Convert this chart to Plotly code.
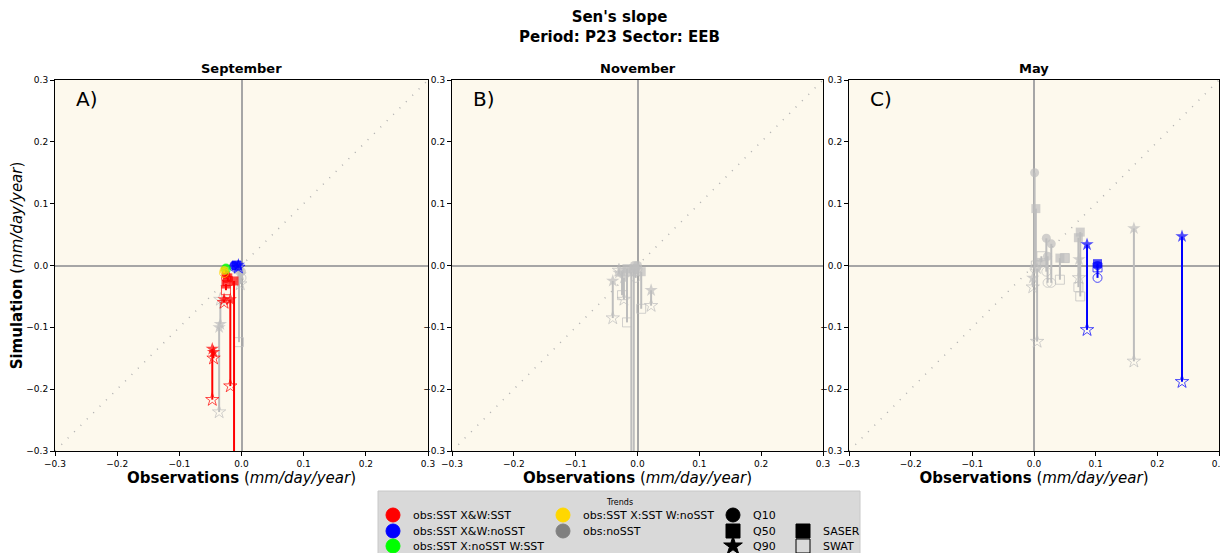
import plotly.graph_objects as go

# ---------------- data ----------------
months = ["September", "November", "May"]
panel_labels = ["A)", "B)", "C)"]
tick_vals = [-0.3, -0.2, -0.1, 0.0, 0.1, 0.2, 0.3]

# September (panel A)
sep_cat = ["noSST", "noSST", "noSST", "noSST", "noSST",
           "XW_SST", "XW_SST", "XW_SST", "XW_SST", "XW_SST", "XW_SST", "XW_SST", "XW_SST",
           "X_SST_W_noSST", "X_noSST_W_SST",
           "XW_noSST", "XW_noSST", "XW_noSST"]
sep_q = ["Q90", "Q50", "Q90", "Q10", "Q90",
         "Q90", "Q90", "Q90", "Q90", "Q50", "Q50", "Q50", "Q10",
         "Q10", "Q10",
         "Q10", "Q50", "Q90"]
sep_obs = [-0.036, -0.004, -0.002, 0.000, -0.034,
           -0.047, -0.045, -0.018, -0.028, -0.012, -0.025, -0.022, -0.025,
           -0.028, -0.025,
           -0.012, -0.008, -0.005]
sep_saser = [-0.100, -0.005, -0.015, -0.010, -0.095,
             -0.135, -0.140, -0.055, -0.055, -0.025, -0.030, -0.020, -0.015,
             -0.008, -0.004,
             0.000, 0.000, 0.001]
sep_swat = [-0.237, -0.124, -0.030, -0.020, -0.055,
            -0.217, -0.150, -0.195, -0.060, -0.420, -0.040, -0.025, -0.020,
            -0.012, -0.006,
            -0.002, 0.000, -0.003]

# November (panel B)
nov_cat = ["noSST"] * 12
nov_q = ["Q50", "Q50", "Q90", "Q50", "Q90", "Q50", "Q50", "Q90", "Q10", "Q10", "Q10", "Q90"]
nov_obs = [-0.010, -0.006, -0.040, -0.025, -0.022, -0.017, 0.006, 0.022, -0.005, 0.000, -0.003, -0.030]
nov_saser = [-0.010, -0.005, -0.025, -0.010, -0.020, -0.005, -0.010, -0.040, 0.000, 0.000, -0.005, -0.012]
nov_swat = [-0.450, -0.440, -0.085, -0.048, -0.055, -0.092, -0.070, -0.065, -0.010, -0.005, -0.020, -0.008]

# May (panel C)
may_cat = ["noSST"] * 14 + ["XW_noSST"] * 4
may_q = ["Q10", "Q50", "Q90", "Q10", "Q10", "Q10", "Q50", "Q50", "Q50", "Q50", "Q90", "Q90", "Q90", "Q50",
         "Q90", "Q10", "Q50", "Q90"]
may_obs = [0.001, 0.003, 0.005, 0.020, 0.028, 0.022, 0.042, 0.050, 0.075, 0.072, 0.073, 0.162, -0.002, 0.012,
           0.086, 0.103, 0.103, 0.240]
may_saser = [0.150, 0.092, -0.005, 0.044, 0.035, 0.015, 0.012, 0.012, 0.054, 0.045, 0.010, 0.060, -0.020, 0.005,
             0.034, 0.000, 0.003, 0.047]
may_swat = [-0.005, 0.000, -0.123, -0.010, -0.028, -0.028, -0.023, 0.012, -0.050, -0.035, -0.020, -0.155, -0.035, 0.015,
            -0.104, -0.020, -0.003, -0.188]

cat_order = ["noSST", "XW_SST", "XW_noSST", "X_noSST_W_SST", "X_SST_W_noSST"]
cat_color = {"noSST": "#bdbdbd", "XW_SST": "#ff0000", "XW_noSST": "#0000ff",
             "X_noSST_W_SST": "#00ff00", "X_SST_W_noSST": "#ffd700"}
q_symbol = {"Q10": "circle", "Q50": "square", "Q90": "star"}
q_size = {"Q10": 9, "Q50": 9, "Q90": 10}

# legend content
leg_cat_labels = ["obs:SST X&W:SST", "obs:SST X&W:noSST", "obs:SST X:noSST W:SST",
                  "obs:SST X:SST W:noSST", "obs:noSST"]
leg_cat_colors = ["#ff0000", "#0000ff", "#00ff00", "#ffd700", "#808080"]
leg_q_labels = ["Q10", "Q50", "Q90"]
leg_model_labels = ["SASER", "SWAT"]

panels = [
    (sep_obs, sep_saser, sep_swat, sep_q, sep_cat),
    (nov_obs, nov_saser, nov_swat, nov_q, nov_cat),
    (may_obs, may_saser, may_swat, may_q, may_cat),
]

FONT = "DejaVu Sans"
OFF = 8                      # page body margin
W, H = 1228 - OFF, 553 - OFF


def px(x):
    return (x - OFF) / W


def py(y):
    return 1 - (y - OFF) / H


fig = go.Figure()

for k, (obs, sas, swa, qs, cats) in enumerate(panels):
    xa = "x" if k == 0 else f"x{k+1}"
    ya = "y" if k == 0 else f"y{k+1}"
    for c in cat_order:
        idx = [i for i, cc in enumerate(cats) if cc == c]
        if not idx:
            continue
        col = cat_color[c]
        lx, ly = [], []
        for i in idx:
            lx += [obs[i], obs[i], None]
            ly += [sas[i], swa[i], None]
        fig.add_trace(go.Scatter(x=lx, y=ly, mode="lines", xaxis=xa, yaxis=ya,
                                 line=dict(color=col, width=2), showlegend=False,
                                 hoverinfo="skip"))
        fig.add_trace(go.Scatter(
            x=[obs[i] for i in idx], y=[swa[i] for i in idx], mode="markers",
            xaxis=xa, yaxis=ya, showlegend=False, cliponaxis=True,
            marker=dict(symbol=[q_symbol[qs[i]] + "-open" for i in idx],
                        size=[q_size[qs[i]] for i in idx], color=col,
                        line=dict(color=col, width=1))))
        fig.add_trace(go.Scatter(
            x=[obs[i] for i in idx], y=[sas[i] for i in idx], mode="markers",
            xaxis=xa, yaxis=ya, showlegend=False, cliponaxis=True,
            marker=dict(symbol=[q_symbol[qs[i]] for i in idx],
                        size=[q_size[qs[i]] for i in idx], color=col,
                        line=dict(width=0))))

# ---------------- layout ----------------
xdoms = [(px(55), px(428)), (px(452), px(823)), (px(849), px(1219))]
ydom = (py(451), py(80))
axis_common = dict(range=[-0.3, 0.3], tickvals=tick_vals, tickformat=".1f", automargin=False,
                   showgrid=False, showline=True, linecolor="black", linewidth=1,
                   mirror=True, ticks="outside", ticklen=4, tickcolor="black",
                   tickfont=dict(size=9, family=FONT, color="black"),
                   zeroline=True, zerolinecolor="#a6a6a6", zerolinewidth=2)
xtitle = dict(text="<b>Observations</b> (<i>mm/day/year</i>)",
              font=dict(size=15, family=FONT, color="black"), standoff=4)
layout = dict(width=W, height=H, margin=dict(l=0, r=0, t=0, b=0, autoexpand=False),
              paper_bgcolor="white", plot_bgcolor="rgba(0,0,0,0)",
              font=dict(family=FONT, color="black"), showlegend=False)
for k in range(3):
    sx = "" if k == 0 else str(k + 1)
    layout["xaxis" + sx] = dict(axis_common, domain=list(xdoms[k]), anchor="y" + sx,
                                title=xtitle)
    yax = dict(axis_common, domain=list(ydom), anchor="x" + sx)
    if k == 0:
        yax["title"] = dict(text="<b>Simulation</b> (<i>mm/day/year</i>)",
                            font=dict(size=15, family=FONT, color="black"), standoff=2)
    layout["yaxis" + sx] = yax

# legend axis (absolute pixel-like coordinates)
layout["xaxis4"] = dict(domain=[0, 1], range=[OFF, 1228], visible=False, anchor="y4",
                        fixedrange=True, automargin=False)
layout["yaxis4"] = dict(domain=[0, py(491)], range=[553, 491], visible=False, anchor="x4",
                        fixedrange=True, automargin=False)
fig.update_layout(**layout)

shapes = []
for k in range(3):
    sx = "" if k == 0 else str(k + 1)
    shapes.append(dict(type="rect", xref=f"x{sx} domain", yref=f"y{sx} domain", x0=0, x1=1, y0=0, y1=1,
                       fillcolor="rgb(253,249,237)", line=dict(width=0), layer="below"))
    shapes.append(dict(type="line", xref="x" + sx, yref="y" + sx, x0=-0.3, y0=-0.3, x1=0.3, y1=0.3,
                       line=dict(color="#b0b0b0", width=1.5, dash="1px,8px"), layer="below"))
shapes.append(dict(type="rect", xref="paper", yref="paper", x0=px(378), x1=px(860),
                   y0=-0.01, y1=py(491), fillcolor="#d9d9d9", line=dict(color="#c8c8c8", width=1),
                   layer="below"))
fig.update_layout(shapes=shapes)

ann = []
ann.append(dict(text="<b>Sen's slope</b><br><b>Period: P23 Sector: EEB</b>", xref="paper", yref="paper",
                x=px(619), y=py(27), xanchor="center", yanchor="middle", showarrow=False,
                font=dict(size=15, family=FONT, color="black")))
for k in range(3):
    sx = "" if k == 0 else str(k + 1)
    ann.append(dict(text=f"<b>{months[k]}</b>", xref="paper", yref="paper",
                    x=(xdoms[k][0] + xdoms[k][1]) / 2, y=py(69), xanchor="center",
                    yanchor="middle", showarrow=False, font=dict(size=13, family=FONT, color="black")))
    ann.append(dict(text=panel_labels[k], xref=f"x{sx} domain", yref=f"y{sx} domain",
                    x=0.05, y=0.95, xanchor="left", yanchor="middle", showarrow=False,
                    font=dict(size=20, family=FONT, color="black")))

# legend entries
ann.append(dict(text="Trends", xref="x4", yref="y4", x=619, y=502, showarrow=False,
                xanchor="center", yanchor="middle", font=dict(size=8, family=FONT, color="black")))
rows = [515, 531, 546]
lx, ly, lc, ls = [], [], [], []
lab_pos = []
for i, (lab, col) in enumerate(zip(leg_cat_labels, leg_cat_colors)):
    cx = 393 if i < 3 else 563
    cy = rows[i] if i < 3 else rows[i - 3]
    lx.append(cx); ly.append(cy); lc.append(col); ls.append("circle")
    lab_pos.append((lab, cx + 18, cy))
for i, lab in enumerate(leg_q_labels):
    lx.append(733); ly.append(rows[i]); lc.append("black"); ls.append(q_symbol[lab])
    lab_pos.append((lab, 751, rows[i]))
for i, lab in enumerate(leg_model_labels):
    lx.append(803); ly.append(rows[i + 1]); lc.append("black")
    ls.append("square" if i == 0 else "square-open")
    lab_pos.append((lab, 821, rows[i + 1]))
fig.add_trace(go.Scatter(x=lx, y=ly, xaxis="x4", yaxis="y4", mode="markers", showlegend=False,
                         hoverinfo="skip", cliponaxis=False,
                         marker=dict(symbol=ls, color=lc, size=14, line=dict(color=lc, width=1))))
for lab, x, y in lab_pos:
    ann.append(dict(text=lab, xref="x4", yref="y4", x=x, y=y, showarrow=False, xanchor="left",
                    yanchor="middle", font=dict(size=11, family=FONT, color="black")))
fig.update_layout(annotations=ann)

fig.write_html("out.html")
